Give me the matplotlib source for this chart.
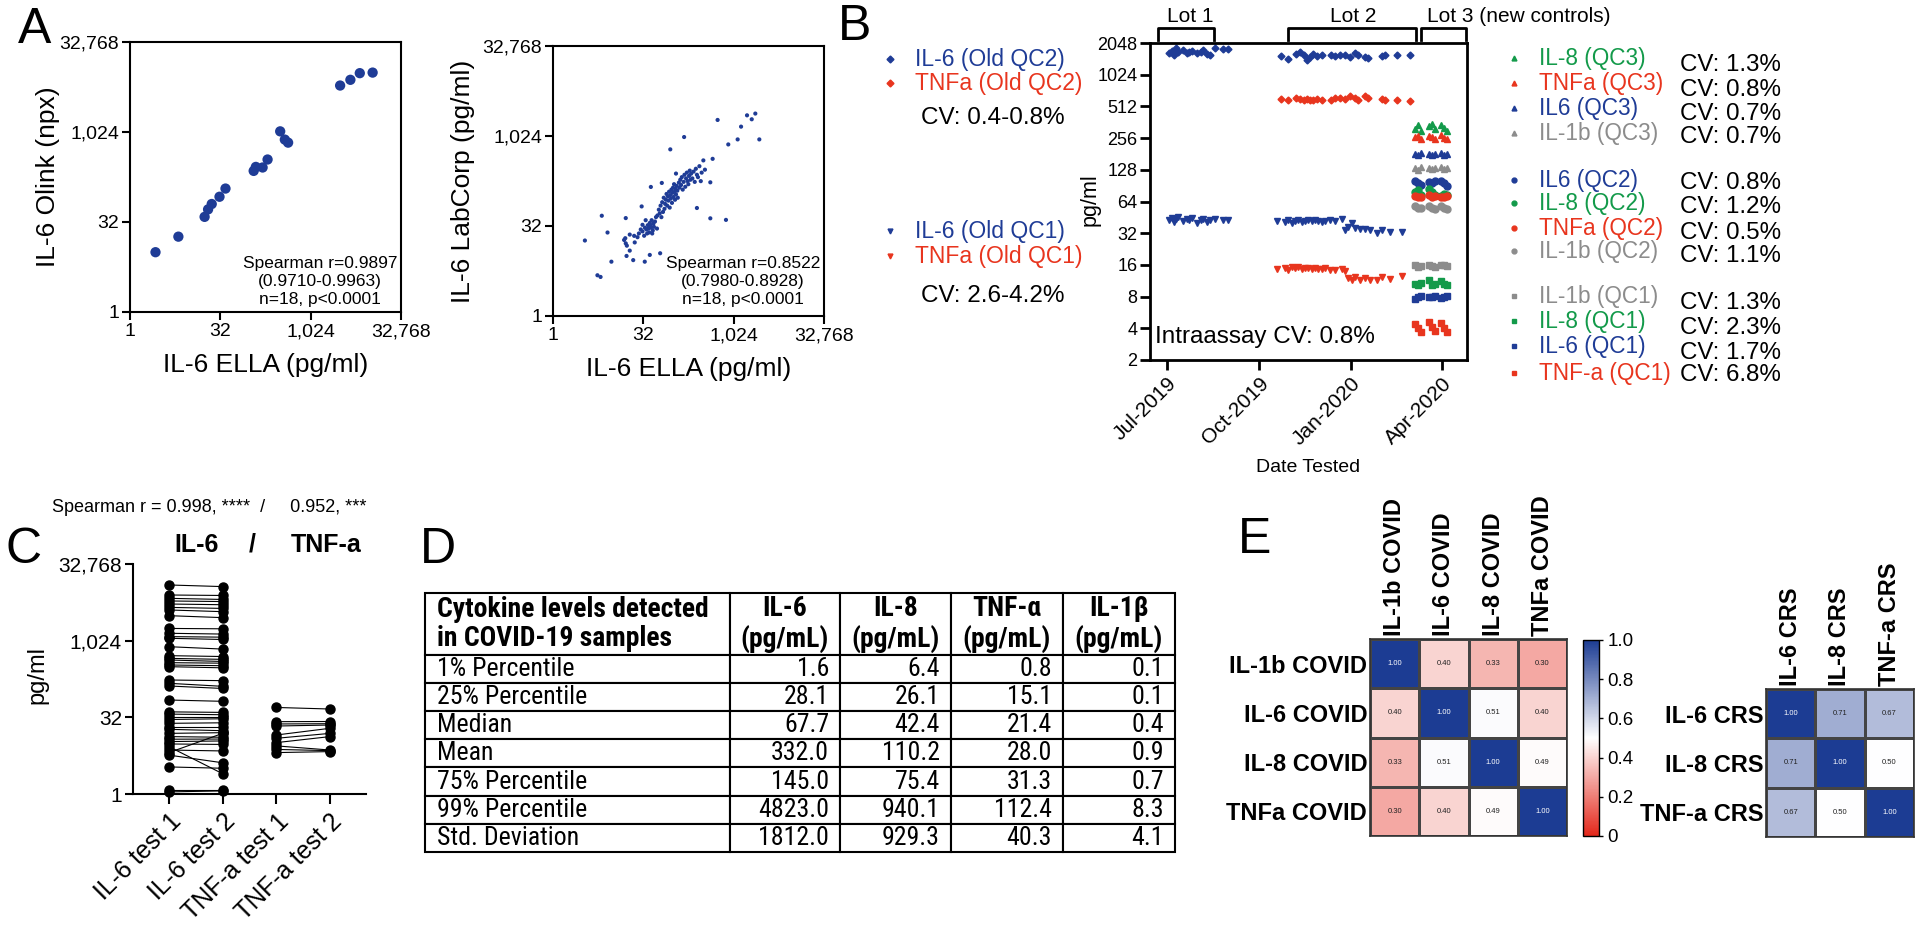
import numpy as np
import pandas as pd
import matplotlib
matplotlib.use('Agg')
import matplotlib.pyplot as plt
import matplotlib.dates as mdates
from matplotlib import font_manager
from matplotlib.colors import LinearSegmentedColormap
from matplotlib.ticker import FixedLocator, FixedFormatter, NullLocator
from matplotlib.lines import Line2D

plt.rcParams['font.family'] = ['Liberation Sans', 'DejaVu Sans']


def weight_num(w):
    return w if isinstance(w, int) else font_manager.weight_dict.get(w, 400)


def has_bold(name):
    return any(f.name == name and weight_num(f.weight) >= 600 for f in font_manager.fontManager.ttflist)


# the table uses a narrow face (Arial Narrow look); pick one that also has a bold weight
narrow_candidates = ['Liberation Sans Narrow', 'Roboto Condensed', 'IBM Plex Sans Condensed',
                     'Fira Sans Condensed', 'PT Sans Narrow', 'Archivo Narrow']
narrow = [n for n in narrow_candidates if has_bold(n)]
TABLE_FONT = [narrow[0] if narrow else 'Liberation Sans', 'Liberation Sans', 'DejaVu Sans']

BLUE = '#1f3c96'
RED = '#e8351e'
GREEN = '#139a4a'
GRAY = '#8c8c8c'

# ---------------- data ----------------
# A, left: IL-6 ELLA vs Olink
olink_ella = [2.66, 6.4, 17.5, 20, 23, 31, 39, 115, 125, 162, 196, 318, 380, 431, 3170, 4700, 6740, 11030]
olink_npx = [10.0, 18.2, 39, 52, 64, 84.6, 116, 229, 267, 261, 355, 1050, 764, 680, 6130, 7640, 9870, 10090]

# A, right: IL-6 ELLA vs LabCorp
labcorp_ella = [3.4, 6.5, 8.1, 5.5, 6.2, 9.4, 15.3, 16.3, 16.3, 19, 21.7, 16.8, 22.5, 25.6, 33.8, 41, 61, 31, 30, 42.7,
                65, 90, 112, 153, 250, 418, 762, 553, 833, 1193, 1360, 1710, 2048, 2350, 2740, 457, 418,
                16, 17, 23, 27, 29, 19,
                31, 33, 34, 36, 38, 40, 41, 43, 44, 46, 47, 48, 50, 52, 54, 35, 37, 39, 42, 45,
                55, 58, 60, 62, 64, 66, 68, 70, 72, 74, 76, 78, 80, 82, 84, 86, 88, 90, 92, 94,
                96, 98, 100, 102, 104, 106, 108, 110, 112, 115, 118, 120,
                125, 128, 132, 136, 140, 145, 150, 155, 160, 165, 170, 175, 180, 185, 190, 195, 200, 210, 220, 230,
                240, 250, 260, 275, 290, 300, 320, 340]
labcorp_val = [18.3, 47.5, 24.9, 4.8, 4.5, 8.1, 18.7, 16.4, 43.4, 12.4, 8.6, 10.1, 21.9, 20.8, 8.1, 10.5, 11.2, 33.5, 68, 144,
               168, 612, 241, 984, 64, 43, 40.5, 1900, 740, 898, 1468, 2270, 1950, 2430, 898, 425, 172,
               20, 15, 17, 24, 28, 23,
               26, 22, 30, 28, 33, 25, 36, 30, 40, 27, 35, 31, 38, 45, 29, 40, 24, 29, 33, 24,
               48, 60, 52, 70, 45, 80, 55, 95, 62, 75, 88, 110, 70, 100, 85, 120, 65, 105, 92, 130,
               78, 115, 140, 98, 160, 120, 88, 135, 108, 150, 125, 95,
               170, 140, 190, 155, 210, 130, 175, 230, 145, 200, 250, 180, 160, 220, 270, 190, 240, 200, 260, 175,
               290, 230, 210, 320, 180, 250, 400, 280]

# B: QC controls over time
lot1_dates = ['2019-07-03', '2019-07-06', '2019-07-08', '2019-07-10', '2019-07-12', '2019-07-17', '2019-07-21',
              '2019-07-23', '2019-07-26', '2019-07-31', '2019-08-04', '2019-08-06', '2019-08-10', '2019-08-13',
              '2019-08-18', '2019-08-26', '2019-08-31']
lot1_il6_oldqc2 = [1640, 1720, 1580, 1850, 1700, 1760, 1650, 1690, 1720, 1660, 1700, 1740, 1620, 1580, 1850, 1790, 1790]
lot1_il6_oldqc1 = [43, 45, 41, 44, 46, 42, 44, 43, 45, 40, 43, 44, 41, 43, 44, 43, 43]

lot2_qc2_dates = ['2019-10-23', '2019-10-30', '2019-11-07', '2019-11-11', '2019-11-15', '2019-11-18', '2019-11-21',
                  '2019-11-24', '2019-11-28', '2019-12-03', '2019-12-12', '2019-12-16', '2019-12-21', '2019-12-26',
                  '2019-12-31', '2020-01-05', '2020-01-08', '2020-01-15', '2020-01-18', '2020-02-01', '2020-02-04',
                  '2020-02-16', '2020-02-29']
lot2_il6_oldqc2 = [1530, 1440, 1600, 1670, 1560, 1420, 1500, 1610, 1540, 1560, 1590, 1530, 1590, 1560, 1510, 1650,
                   1590, 1500, 1480, 1530, 1560, 1580, 1590]
lot2_tnfa_oldqc2 = [600, 590, 610, 605, 590, 600, 590, 585, 600, 585, 590, 610, 620, 600, 640, 610, 590, 645, 615,
                    600, 585, 585, 575]

lot2_qc1_dates = ['2019-10-19', '2019-10-27', '2019-10-30', '2019-11-03', '2019-11-06', '2019-11-09', '2019-11-13',
                  '2019-11-16', '2019-11-19', '2019-11-23', '2019-11-26', '2019-11-29', '2019-12-03', '2019-12-06',
                  '2019-12-11', '2019-12-16', '2019-12-23', '2019-12-26', '2019-12-29', '2020-01-02', '2020-01-05',
                  '2020-01-10', '2020-01-15', '2020-01-20', '2020-01-27', '2020-02-01', '2020-02-09', '2020-02-21']
lot2_il6_oldqc1 = [42, 41, 43, 40, 42, 43, 41, 42, 43, 42, 43, 42, 41, 42, 43, 42, 44, 34, 37, 40, 36, 35, 35, 34,
                   32, 34, 33, 33]
lot2_tnfa_oldqc1 = [14.5, 15.0, 14.2, 15.3, 14.8, 15.2, 14.6, 14.9, 15.0, 14.7, 14.8, 14.5, 14.6, 14.8, 14.4, 14.2,
                    14.5, 14.0, 12.0, 11.6, 12.3, 11.5, 12.0, 11.4, 11.6, 12.2, 11.8, 12.5]

lot3_dates = ['2020-03-05', '2020-03-08', '2020-03-11', '2020-03-19', '2020-03-22', '2020-03-25',
              '2020-03-31', '2020-04-03', '2020-04-06']
il8_qc3 = [310, 340, 300, 330, 350, 310, 340, 320, 300]
tnfa_qc3 = [260, 270, 250, 270, 260, 250, 275, 255, 250]
il6_qc3 = [180, 175, 185, 180, 178, 182, 185, 176, 180]
il1b_qc3 = [132, 128, 135, 133, 130, 134, 135, 130, 132]
il6_qc2 = [100, 96, 92, 98, 95, 100, 100, 95, 90]
il8_qc2 = [78, 82, 74, 85, 78, 74, 72, 76, 74]
tnfa_qc2 = [72, 70, 71, 73, 70, 72, 71, 70, 72]
il1b_qc2 = [58, 56, 55, 58, 55, 54, 58, 56, 54]
il1b_qc1 = [15.8, 15.2, 15.5, 16.0, 15.6, 15.4, 16.0, 15.8, 15.5]
il8_qc1 = [10.5, 10.2, 10.8, 11.5, 10.4, 10.6, 11.2, 10.6, 10.4]
il6_qc1 = [7.6, 8.0, 8.1, 8.0, 8.0, 8.1, 7.8, 8.0, 8.1]
tnfa_qc1 = [4.4, 4.0, 3.7, 4.6, 4.1, 3.8, 4.5, 4.0, 3.7]

new_legend = [('IL-8 (QC3)', GREEN, '^', 'CV: 1.3%'), ('TNFa (QC3)', RED, '^', 'CV: 0.8%'),
              ('IL6 (QC3)', BLUE, '^', 'CV: 0.7%'), ('IL-1b (QC3)', GRAY, '^', 'CV: 0.7%'),
              ('IL6 (QC2)', BLUE, 'o', 'CV: 0.8%'), ('IL-8 (QC2)', GREEN, 'o', 'CV: 1.2%'),
              ('TNFa (QC2)', RED, 'o', 'CV: 0.5%'), ('IL-1b (QC2)', GRAY, 'o', 'CV: 1.1%'),
              ('IL-1b (QC1)', GRAY, 's', 'CV: 1.3%'), ('IL-8 (QC1)', GREEN, 's', 'CV: 2.3%'),
              ('IL-6 (QC1)', BLUE, 's', 'CV: 1.7%'), ('TNF-a (QC1)', RED, 's', 'CV: 6.8%')]

# C: test / retest
c_categories = ['IL-6 test 1', 'IL-6 test 2', 'TNF-a test 1', 'TNF-a test 2']
il6_test1 = [12700, 8070, 6940, 6160, 5370, 4610, 4100, 3170, 1780, 1430, 1230, 1140, 780, 520, 460, 427, 379, 341,
             316, 173, 149, 132, 70, 41, 37, 33, 29, 24.4, 21, 18.6, 15.5, 13.4, 11.9, 10.7, 9.6, 8.5, 7.3, 6.5,
             5.8, 3.4, 1.2, 1.1]
il6_test2 = [11800, 7900, 6600, 6000, 5200, 4400, 3800, 2900, 1750, 1380, 1200, 1080, 700, 500, 440, 400, 370, 330,
             300, 168, 130, 118, 66, 40, 36, 33, 30, 25, 21, 17.5, 16, 13, 12, 11, 9.4, 2.5, 7.0, 15.5,
             4.1, 3.2, 1.2, 1.15]
tnfa_test1 = [50, 26.3, 23.7, 21.6, 14.4, 12.4, 10.2, 8.8, 7.5, 6.5]
tnfa_test2 = [46.6, 26.5, 24, 22.6, 19.5, 15.5, 13.4, 7.3, 7.1, 6.8]

# D: summary table
table_rows = ['1% Percentile', '25% Percentile', 'Median', 'Mean', '75% Percentile', '99% Percentile', 'Std. Deviation']
table_cols = ['IL-6\n(pg/mL)', 'IL-8\n(pg/mL)', 'TNF-\u03b1\n(pg/mL)', 'IL-1\u03b2\n(pg/mL)']
il6_stats = [1.6, 28.1, 67.7, 332.0, 145.0, 4823.0, 1812.0]
il8_stats = [6.4, 26.1, 42.4, 110.2, 75.4, 940.1, 929.3]
tnf_stats = [0.8, 15.1, 21.4, 28.0, 31.3, 112.4, 40.3]
il1b_stats = [0.1, 0.1, 0.4, 0.9, 0.7, 8.3, 4.1]

# E: correlation heatmaps
covid_labels = ['IL-1b COVID', 'IL-6 COVID', 'IL-8 COVID', 'TNFa COVID']
covid_corr = [[1.00, 0.40, 0.33, 0.30],
              [0.40, 1.00, 0.51, 0.40],
              [0.33, 0.51, 1.00, 0.49],
              [0.30, 0.40, 0.49, 1.00]]
crs_labels = ['IL-6 CRS', 'IL-8 CRS', 'TNF-a CRS']
crs_corr = [[1.00, 0.71, 0.67],
            [0.71, 1.00, 0.50],
            [0.67, 0.50, 1.00]]

# ---------------- layout helpers ----------------
W, H = 1920, 931
fig = plt.figure(figsize=(19.2, 9.31), dpi=100)
renderer = fig.canvas.get_renderer()


def box(x0, y0, x1, y1):
    return fig.add_axes([x0 / W, 1 - y1 / H, (x1 - x0) / W, (y1 - y0) / H])


def ftext(x, y, s, **kw):
    return fig.text(x / W, 1 - y / H, s, **kw)


def fmarker(x, y, marker, color, size=4.5):
    fig.add_artist(Line2D([x / W], [1 - y / H], transform=fig.transFigure, marker=marker,
                          color=color, markersize=size, linestyle='none'))


def size_for_width(s, target_px, **kw):
    t = fig.text(0, 0, s, fontsize=10, **kw)
    w = t.get_window_extent(renderer).width
    t.remove()
    return 10 * target_px / w


def log2_axis(axis, ticks, labels):
    axis.set_major_locator(FixedLocator(ticks))
    axis.set_major_formatter(FixedFormatter(labels))
    axis.set_minor_locator(NullLocator())


big_ticks = [1, 32, 1024, 32768]
big_labels = ['1', '32', '1,024', '32,768']

# panel letters
for letter, x, y in [('A', 18, 43), ('B', 838, 40), ('C', 5, 563), ('D', 420, 563), ('E', 1238, 553)]:
    ftext(x, y, letter, fontsize=36, va='baseline')

# ---------------- A ----------------
for (x0, y0, x1, y1), xs, ys, s, ylab, ylab_x in [
        ((130, 42, 401, 312), olink_ella, olink_npx, 55, 'IL-6 Olink (npx)', 48),
        ((553, 46, 824, 316), labcorp_ella, labcorp_val, 9, 'IL-6 LabCorp (pg/ml)', 463)]:
    ax = box(x0, y0, x1, y1)
    ax.scatter(xs, ys, s=s, color=BLUE, edgecolors='none', clip_on=False, zorder=3)
    ax.set_xscale('log', base=2)
    ax.set_yscale('log', base=2)
    ax.set_xlim(1, 32768)
    ax.set_ylim(1, 32768)
    log2_axis(ax.xaxis, big_ticks, big_labels)
    log2_axis(ax.yaxis, big_ticks, big_labels)
    ax.tick_params(labelsize=14, direction='out', length=6, width=1.5, pad=2)
    for sp in ax.spines.values():
        sp.set_linewidth(1.5)
    ftext(ylab_x, (y0 + y1) / 2, ylab, rotation=90, ha='center', va='center', fontsize=19)
    ftext((x0 + x1) / 2, y1 + 53, 'IL-6 ELLA (pg/ml)', ha='center', va='center', fontsize=19)
ftext(320, 304, 'Spearman r=0.9897\n(0.9710-0.9963)\nn=18, p<0.0001', ha='center', va='baseline',
      fontsize=12.5, linespacing=1.25, multialignment='center')
ftext(743, 304, 'Spearman r=0.8522\n(0.7980-0.8928)\nn=18, p<0.0001', ha='center', va='baseline',
      fontsize=12.5, linespacing=1.25, multialignment='center')

# ---------------- B ----------------
axb = box(1150, 43, 1467, 360)
d = pd.to_datetime
ms = 4
axb.plot(d(lot1_dates), lot1_il6_oldqc2, 'D', color=BLUE, ms=3.5, ls='none')
axb.plot(d(lot1_dates), lot1_il6_oldqc1, 'v', color=BLUE, ms=ms, ls='none')
axb.plot(d(lot2_qc2_dates), lot2_il6_oldqc2, 'D', color=BLUE, ms=3.5, ls='none')
axb.plot(d(lot2_qc2_dates), lot2_tnfa_oldqc2, 'D', color=RED, ms=3.5, ls='none')
axb.plot(d(lot2_qc1_dates), lot2_il6_oldqc1, 'v', color=BLUE, ms=ms, ls='none')
axb.plot(d(lot2_qc1_dates), lot2_tnfa_oldqc1, 'v', color=RED, ms=ms, ls='none')
for vals, c, m in [(il8_qc3, GREEN, '^'), (tnfa_qc3, RED, '^'), (il6_qc3, BLUE, '^'), (il1b_qc3, GRAY, '^'),
                   (il6_qc2, BLUE, 'o'), (il8_qc2, GREEN, 'o'), (il1b_qc2, GRAY, 'o'), (tnfa_qc2, RED, 'o'),
                   (il1b_qc1, GRAY, 's'), (il8_qc1, GREEN, 's'), (il6_qc1, BLUE, 's'), (tnfa_qc1, RED, 's')]:
    axb.plot(d(lot3_dates), vals, m, color=c, ms=5, ls='none')
axb.set_yscale('log', base=2)
axb.set_ylim(2, 2048)
b_ticks = [2, 4, 8, 16, 32, 64, 128, 256, 512, 1024, 2048]
log2_axis(axb.yaxis, b_ticks, [str(t) for t in b_ticks])
axb.set_xlim(d('2019-06-14'), d('2020-04-26'))
axb.xaxis.set_major_locator(mdates.MonthLocator(bymonth=[1, 4, 7, 10]))
axb.xaxis.set_major_formatter(mdates.DateFormatter('%b-%Y'))
axb.tick_params(axis='y', labelsize=13, direction='out', length=7, width=2, pad=2)
axb.tick_params(axis='x', labelsize=15, direction='out', length=7, width=2, pad=3)
for lab in axb.get_xticklabels():
    lab.set_rotation(45)
    lab.set_ha('right')
    lab.set_rotation_mode('anchor')
for sp in axb.spines.values():
    sp.set_linewidth(2)
ftext(1090, 200, 'pg/ml', rotation=90, ha='center', va='center', fontsize=15.5)
ftext(1308, 468, 'Date Tested', ha='center', va='center', fontsize=14)
axb.text(0.016, 0.055, 'Intraassay CV: 0.8%', transform=axb.transAxes, fontsize=17.5, va='baseline')

# lot brackets: x in dates, y in axes fraction
trans = axb.get_xaxis_transform()
for start, end in [('2019-06-22', '2019-08-17'), ('2019-10-30', '2020-03-06'), ('2020-03-11', '2020-04-25')]:
    xs = mdates.date2num(d([start, start, end, end]))
    axb.plot(xs, [1.01, 1.048, 1.048, 1.01], color='black', lw=2, transform=trans, clip_on=False)
ftext(1190, 22, 'Lot 1', ha='center', va='baseline', fontsize=15)
ftext(1353, 22, 'Lot 2', ha='center', va='baseline', fontsize=15)
ftext(1427, 22, 'Lot 3 (new controls)', ha='left', va='baseline', fontsize=15)

# old-control legend
for y, lab, c, m in [(66, 'IL-6 (Old QC2)', BLUE, 'D'), (90, 'TNFa (Old QC2)', RED, 'D'),
                     (238, 'IL-6 (Old QC1)', BLUE, 'v'), (263, 'TNFa (Old QC1)', RED, 'v')]:
    fmarker(890, y - 7, m, c, 3.5)
    ftext(915, y, lab, color=c, fontsize=16.5, va='baseline')
ftext(993, 124, 'CV: 0.4-0.8%', ha='center', va='baseline', fontsize=17.5)
ftext(993, 302, 'CV: 2.6-4.2%', ha='center', va='baseline', fontsize=17.5)

# new-control legend
lab_base = [65, 90, 115, 140, 187, 210, 235, 258, 303, 328, 353, 380]
cv_base = [71, 96, 120, 143, 189, 213, 239, 262, 309, 334, 359, 381]
for (lab, c, m, cv), yb, yc in zip(new_legend, lab_base, cv_base):
    fmarker(1514, yb - 7, m, c, 3.5)
    ftext(1539, yb, lab, color=c, fontsize=16.3, va='baseline')
    ftext(1680, yc, cv, fontsize=17.4, va='baseline')

# ---------------- C ----------------
axc = box(133, 564, 366, 794)
for a, b in zip(il6_test1, il6_test2):
    axc.plot([0, 1], [a, b], '-o', color='black', lw=0.8, ms=6.5, clip_on=False)
for a, b in zip(tnfa_test1, tnfa_test2):
    axc.plot([2, 3], [a, b], '-o', color='black', lw=0.8, ms=6.5, clip_on=False)
axc.set_yscale('log', base=2)
axc.set_ylim(1, 32768)
log2_axis(axc.yaxis, big_ticks, big_labels)
axc.set_xlim(-0.67, 3.67)
axc.set_xticks(range(len(c_categories)))
axc.set_xticklabels(c_categories, rotation=45, ha='right', rotation_mode='anchor', fontsize=18)
axc.tick_params(axis='y', labelsize=15, direction='out', length=6, width=1.5, pad=2)
axc.tick_params(axis='x', direction='out', length=7, width=1.5, pad=4)
axc.spines['top'].set_visible(False)
axc.spines['right'].set_visible(False)
axc.spines['left'].set_linewidth(1.5)
axc.spines['bottom'].set_linewidth(1.5)
ftext(37, 675, 'pg/ml', rotation=90, ha='center', va='center', fontsize=17)
ftext(197, 552, 'IL-6', ha='center', va='baseline', fontsize=18, fontweight='bold')
ftext(252, 552, '/', ha='center', va='baseline', fontsize=18, fontweight='bold')
ftext(326, 552, 'TNF-a', ha='center', va='baseline', fontsize=18, fontweight='bold')
ftext(52, 512, 'Spearman r = 0.998, ****  /     0.952, ***', ha='left', va='baseline', fontsize=13)

# ---------------- D ----------------
body_size = min(22, 0.5 * (size_for_width('4823.0', 66, fontfamily=TABLE_FONT)
                           + size_for_width('1% Percentile', 144, fontfamily=TABLE_FONT)))
head_size = min(22, size_for_width('Cytokine levels detected', 273, fontfamily=TABLE_FONT, fontweight='bold'))

axd = box(425, 593, 1175, 852)
axd.axis('off')
cell_text = [['Cytokine levels detected\nin COVID-19 samples'] + table_cols]
for i, r in enumerate(table_rows):
    cell_text.append([r] + [f'{v[i]:.1f}' for v in (il6_stats, il8_stats, tnf_stats, il1b_stats)])
col_w = [305, 110, 111, 112, 112]
col_w = [w / sum(col_w) for w in col_w]
tbl = axd.table(cellText=cell_text, colWidths=col_w, bbox=[0, 0, 1, 1])
tbl.auto_set_font_size(False)
for (r, c), cell in tbl.get_celld().items():
    cell.set_linewidth(1.5)
    cell.set_height(62 if r == 0 else 28.3)
    cell.PAD = 0.04 if c == 0 else 0.1
    txt = cell.get_text()
    txt.set_fontfamily(TABLE_FONT)
    if r == 0:
        txt.set_fontsize(head_size)
        txt.set_fontweight('bold')
        txt.set_linespacing(1.1)
        cell._loc = 'left' if c == 0 else 'center'
    else:
        txt.set_fontsize(body_size)
        cell._loc = 'left' if c == 0 else 'right'
    txt.set_ha(cell._loc)

# ---------------- E ----------------
cmap = LinearSegmentedColormap.from_list('rwb', ['#e3281b', '#ffffff', '#1c3c93'])


def heat(ax, corr, labels):
    m = np.array(corr)
    n = len(labels)
    pc = ax.pcolormesh(m, cmap=cmap, vmin=0, vmax=1, edgecolors='#444444', linewidth=0.8)
    ax.set_xlim(0, n)
    ax.set_ylim(n, 0)
    ax.xaxis.tick_top()
    ax.set_xticks(np.arange(n) + 0.5)
    ax.set_xticklabels(labels, rotation=90, fontsize=17, fontweight='bold')
    ax.set_yticks(np.arange(n) + 0.5)
    ax.set_yticklabels(labels, fontsize=17, fontweight='bold')
    ax.tick_params(length=0, pad=2)
    for i in range(n):
        for j in range(n):
            ax.text(j + 0.5, i + 0.5, f'{m[i, j]:.2f}', ha='center', va='center', fontsize=5.5,
                    color='white' if m[i, j] > 0.9 else '#222222')
    for sp in ax.spines.values():
        sp.set_linewidth(1.2)
        sp.set_color('#333333')
    return pc


ax_e1 = box(1370, 639, 1567, 836)
pc = heat(ax_e1, covid_corr, covid_labels)
cax = box(1583, 640, 1599, 836)
cb = fig.colorbar(pc, cax=cax, ticks=[0, 0.2, 0.4, 0.6, 0.8, 1.0])
cb.ax.set_yticklabels(['0', '0.2', '0.4', '0.6', '0.8', '1.0'])
cb.ax.tick_params(labelsize=13.5, length=3, width=1, pad=3)
cb.outline.set_linewidth(1)
ax_e2 = box(1766, 689, 1914, 837)
heat(ax_e2, crs_corr, crs_labels)

fig.savefig('out.png', dpi=100)
